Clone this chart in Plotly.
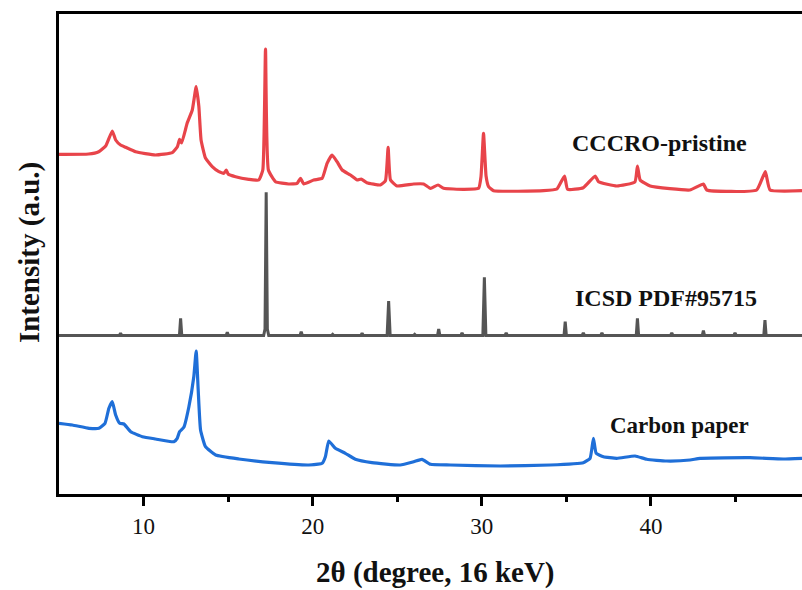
import plotly.graph_objects as go

# ---- data (2theta in degrees, stacked intensity in arbitrary units) ----
red_x = [5.0, 6.75, 7.35, 7.76, 8.15, 8.35, 8.64, 8.94, 9.53, 10.7, 11.7, 12.0, 12.13, 12.25,
         12.58, 12.88, 13.11, 13.27, 13.4, 13.66, 14.06, 14.45, 14.75, 14.89, 15.0, 15.44,
         16.22, 16.81, 17.05, 17.21, 17.38, 17.8, 18.58, 19.08, 19.28, 19.47, 20.06, 20.56,
         20.85, 21.15, 21.44, 21.74, 22.23, 22.63, 22.86, 23.2, 24.0, 24.3, 24.46, 24.6, 24.99,
         25.97, 26.56, 26.96, 27.41, 27.74, 28.92, 29.81, 29.95, 30.1, 30.25, 30.4, 30.69,
         33.65, 34.44, 34.89, 35.07, 36.0, 36.7, 36.9, 37.98, 39.05, 39.2, 39.36, 39.95,
         42.3, 43.1, 43.3, 46.25, 46.76, 47.04, 48.93]
red_y = [339.7, 340, 342.3, 348, 363, 354, 349, 346.7, 342.3, 339, 341.3, 347.3, 354.7, 351,
         371, 384, 407.3, 387.3, 354, 336, 327.3, 322.3, 320.7, 324, 320, 317.3,
         314.7, 314, 324, 445, 324, 312.3, 310, 310.7, 315.7, 310, 314, 315.7,
         330.7, 339, 332.3, 324, 319, 314, 315, 311.3, 309, 313.3, 346.7, 314, 308,
         310, 310, 305.7, 309, 305.7, 304.7, 305.7, 317.3, 360.7, 318, 307.3, 303.3,
         303.3, 305, 318, 304.7, 306.3, 318, 312.3, 308, 312, 328, 314, 308,
         304, 310, 304, 304, 322.3, 304, 303.3]

gray_x = [5.0, 8.57, 8.64, 8.71, 12.12, 12.19, 12.26, 14.88, 14.95, 15.02, 17.1, 17.18, 17.25,
          17.32, 17.4, 19.25, 19.32, 19.39, 21.11, 21.18, 21.25, 22.85, 22.92, 22.99, 24.4,
          24.49, 24.58, 25.96, 26.03, 26.1, 27.38, 27.45, 27.52, 28.76, 28.83, 28.9, 30.06,
          30.15, 30.24, 31.37, 31.44, 31.51, 34.86, 34.93, 35.0, 35.93, 36.0, 36.07, 37.03,
          37.1, 37.17, 39.13, 39.2, 39.27, 41.16, 41.23, 41.3, 43.03, 43.1, 43.17, 44.9,
          44.97, 45.04, 46.67, 46.74, 46.81, 48.93]
gray_y = [158.5, 158.5, 160.7, 158.5, 158.5, 175.7, 158.5, 158.5, 161.7, 158.5, 158.5, 165,
          301.7, 165, 158.5, 158.5, 162.3, 158.5, 158.5, 159.7, 158.5, 158.5, 160.7, 158.5,
          158.5, 193, 158.5, 158.5, 159.7, 158.5, 158.5, 165, 158.5, 158.5, 161, 158.5, 158.5,
          216.7, 158.5, 158.5, 161, 158.5, 158.5, 172.3, 158.5, 158.5, 161, 158.5, 158.5,
          161, 158.5, 158.5, 175.7, 158.5, 158.5, 161, 158.5, 158.5, 163.3, 158.5, 158.5,
          161, 158.5, 158.5, 174, 158.5, 158.5]

blue_x = [5.0, 5.79, 6.77, 7.36, 7.72, 7.95, 8.15, 8.35, 8.59, 8.84, 9.24, 9.93, 10.71, 11.79,
          11.99, 12.13, 12.38, 12.68, 12.97, 13.11, 13.23, 13.37, 13.66, 14.26, 15.63, 17.6,
          19.77, 20.56, 20.75, 20.95, 21.34, 21.93, 22.52, 23.5, 25.17, 25.97, 26.46, 26.96,
          28.14, 31.09, 34.04, 36.0, 36.4, 36.6, 36.76, 37.19, 37.98, 39.06, 39.75, 40.93,
          42.31, 42.9, 45.85, 47.82, 48.93]
blue_y = [70.7, 69, 65.7, 65.7, 70.7, 85.7, 92.3, 79, 70.7, 70, 62.3, 57.3, 55, 52.3,
          55.7, 62.3, 66.7, 87.3, 117.3, 143, 104, 64, 47.3, 39, 35, 31.3,
          29, 30.7, 37.3, 53, 45.7, 40.7, 34.7, 31.3, 29, 32.3, 34.7, 29.7,
          29, 28, 29, 31.3, 35.7, 55.7, 40.7, 37.3, 35.7, 38, 34.7, 33,
          34, 35.7, 36.3, 35, 35.7]

labels = ["CCCRO-pristine", "ICSD PDF#95715", "Carbon paper"]
x_ticks = [10, 20, 30, 40]

SERIF = "Liberation Serif, Times New Roman, serif"

fig = go.Figure()
fig.add_trace(go.Scatter(x=red_x, y=red_y, mode="lines", name=labels[0],
                         line=dict(color="#E8444A", width=3.2, shape="spline", smoothing=0.4)))
fig.add_trace(go.Scatter(x=gray_x, y=gray_y, mode="lines", name=labels[1],
                         line=dict(color="#555555", width=3)))
fig.add_trace(go.Scatter(x=blue_x, y=blue_y, mode="lines", name=labels[2],
                         line=dict(color="#1F6FD8", width=3.2, shape="spline", smoothing=0.4)))

ann_font = dict(family=SERIF, size=24, color="#111111")
fig.add_annotation(x=40.48, y=351, text="<b>%s</b>" % labels[0], showarrow=False,
                   font=ann_font, xanchor="center", yanchor="middle")
fig.add_annotation(x=40.89, y=196, text="<b>%s</b>" % labels[1], showarrow=False,
                   font=ann_font, xanchor="center", yanchor="middle")
fig.add_annotation(x=41.69, y=69, text="<b>%s</b>" % labels[2], showarrow=False,
                   font=dict(family=SERIF, size=23, color="#111111"),
                   xanchor="center", yanchor="middle")

# axis titles
fig.add_annotation(xref="paper", yref="paper", x=0.5067, y=-0.1625,
                   text="<b>2θ (degree, 16 keV)</b>", showarrow=False,
                   font=dict(family=SERIF, size=29, color="#111111"),
                   xanchor="center", yanchor="middle")
fig.add_annotation(xref="paper", yref="paper", x=-0.0403, y=0.502,
                   text="<b>Intensity (a.u.)</b>", showarrow=False, textangle=-90,
                   font=dict(family=SERIF, size=29, color="#111111"),
                   xanchor="center", yanchor="middle")

fig.update_layout(
    width=802, height=590,
    margin=dict(l=59, r=0, t=14, b=96),
    paper_bgcolor="white", plot_bgcolor="white",
    showlegend=False,
    xaxis=dict(range=[5, 48.93], tickvals=x_ticks, ticktext=[str(v) for v in x_ticks],
               ticks="outside", ticklen=9, tickwidth=2.5, tickcolor="black",
               minor=dict(tickvals=[15, 25, 35, 45], ticks="outside", ticklen=5,
                          tickwidth=2.5, tickcolor="black"),
               showline=True, linewidth=3, linecolor="black", mirror=True,
               showgrid=False, zeroline=False,
               tickfont=dict(family=SERIF, size=23, color="#111111")),
    yaxis=dict(range=[0, 480], showticklabels=False, ticks="", showgrid=False,
               zeroline=False, showline=True, linewidth=3, linecolor="black"),
)

fig.write_html("out.html", config={"displayModeBar": False},
               post_script="document.body.style.margin='0';document.body.style.overflow='hidden';")
